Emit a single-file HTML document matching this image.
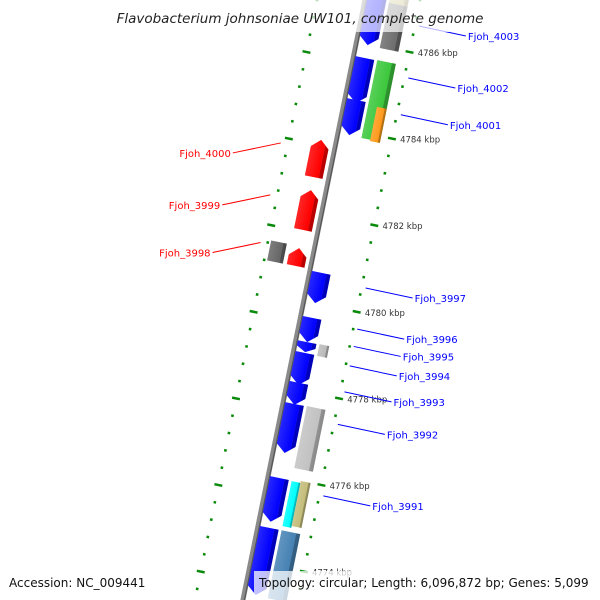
<!DOCTYPE html>
<html><head><meta charset="utf-8">
<style>
html,body{margin:0;background:#fff;width:600px;height:600px;overflow:hidden;}
svg{display:block;font-family:"DejaVu Sans","Liberation Sans",sans-serif;}
</style></head>
<body>
<svg id="chart" width="600" height="600" viewBox="0 0 600 600">
<defs>
<linearGradient id="shade" x1="0" x2="1" y1="0" y2="0">
<stop offset="0" stop-color="#fff" stop-opacity="0.15"/><stop offset="0.75" stop-color="#fff" stop-opacity="0"/><stop offset="0.8" stop-color="#000" stop-opacity="0.25"/><stop offset="1" stop-color="#000" stop-opacity="0.3"/>
</linearGradient>
<clipPath id="frame"><rect x="0" y="0" width="600" height="600"/></clipPath>
</defs>
<g clip-path="url(#frame)">
<g id="rot" transform="translate(365,0) rotate(11.5)"></g>
<g id="labels"></g>
</g>
<rect x="0" y="0" width="600" height="32" fill="#fff" fill-opacity="0.7"/>
<text x="300" y="23" text-anchor="middle" font-style="italic" font-size="13.5" fill="#222">Flavobacterium johnsoniae UW101, complete genome</text>
<rect x="254" y="571" width="340" height="29" fill="#fff" fill-opacity="0.75"/>
<text x="9" y="587" font-size="12" fill="#111">Accession: NC_009441</text>
<text x="259" y="587" font-size="12" fill="#111">Topology: circular; Length: 6,096,872 bp; Genes: 5,099</text>
</svg>
<script>
// data (kbp)
const geneStarts = [4787.3,4785.86,4784.89,4780.90,4779.86,4779.30,4779.05,4778.36,4777.87,4776.16,4775.01,
                    4787.35,4787.09,4785.77,4784.71,4779.23,4777.78,4776.07,4776.07,4774.91,
                    4783.97,4782.81,4781.47,4781.61];
const geneEnds   = [4786.16,4784.82,4784.08,4780.20,4779.30,4779.07,4778.31,4777.85,4776.74,4775.15,4773.46,
                    4787.05,4786.05,4783.97,4783.92,4778.96,4776.35,4775.03,4775.03,4773.34,
                    4783.11,4781.89,4781.06,4781.15];
const geneTracks = ["r1","r1","r1","r1","r1","r1","r1","r1","r1","r1","r1",
                    "r2","r2","r2","r2o","r2s","r2","r2i","r2o","r2",
                    "l1","l1","l1","l2"];
const geneColors = ["#0000ff","#0000ff","#0000ff","#0000ff","#0000ff","#0000ff","#0000ff","#0000ff","#0000ff","#0000ff","#0000ff",
                    "#c4bd7a","#6e6e6e","#3cc83c","#ff9a1a","#bbbbbb","#c2c2c2","#00ffff","#c4bd7a","#4682b4",
                    "#ff0000","#ff0000","#ff0000","#666666"];
const geneArrow  = ["dn","dn","dn","dn","dn","dn","dn","dn","dn","dn","dn",
                    "no","no","no","no","no","no","no","no","no",
                    "up","up","up","no"];
const tickKbp = [4786,4784,4782,4780,4778,4776,4774];
const tickLabels = ["4786 kbp","4784 kbp","4782 kbp","4780 kbp","4778 kbp","4776 kbp","4774 kbp"];
const geneNames = ["Fjoh_4003","Fjoh_4002","Fjoh_4001","Fjoh_4000","Fjoh_3999","Fjoh_3998","Fjoh_3997","Fjoh_3996","Fjoh_3995","Fjoh_3994","Fjoh_3993","Fjoh_3992","Fjoh_3991"];
const nameKbp =   [4786.6,4785.4,4784.55,4783.9,4782.7,4781.6,4780.55,4779.6,4779.2,4778.75,4778.15,4777.4,4775.75];
const nameSide =  ["r","r","r","l","l","l","r","r","r","r","r","r","r"];

const A = 11.5*Math.PI/180, C = Math.cos(A), S = Math.sin(A);
const NS = "http://www.w3.org/2000/svg";
// local along-axis coordinate for a kbp value at a radial offset, so screen y matches the scale
function yScale(k,o){ return (52 + (4786 - k)*43.3 - (o||0)*S)/C; }
function toScreen(o,L){ return [365 + o*C - L*S, o*S + L*C]; }
const trackOff = {r1:[2,21],r2:[24,43],r2i:[24,33],r2o:[33,43],r2s:[24,34],l1:[-24,-6],l2:[-44,-28]};
const rot = document.getElementById('rot');
const lab = document.getElementById('labels');
function mk(tag, attrs, parent){ const e=document.createElementNS(NS,tag); for(const k in attrs) e.setAttribute(k,attrs[k]); parent.appendChild(e); return e; }

const bb = mk('line',{x1:0,y1:-20,x2:0,y2:620,stroke:'#8a8a8a','stroke-width':5},rot);


mk('line',{x1:1.5,y1:-20,x2:1.5,y2:620,stroke:'#555','stroke-width':1.2},rot);

for(let k=4788; k>=4772.8; k-=0.4){
  const kk=Math.round(k*10)/10;
  const major = Math.abs(kk-Math.round(kk))<0.01 && Math.round(kk)%2===0;
  [54,-47].forEach(o=>{
    const L=yScale(kk,o);
    const d=mk('line',{x1:o-(major?4:1.3),y1:L,x2:o+(major?4:1.3),y2:L,stroke:'#0a8a0a','stroke-width':2.5},rot);
    
    
  });
}
tickKbp.forEach((k,i)=>{
  const [x,y]=toScreen(62,yScale(k,62));
  const t=mk('text',{x:x,y:y+4,'font-size':8.5,fill:'#333'},lab);
  t.textContent=tickLabels[i];
  
  
});

for(let i=0;i<geneStarts.length;i++){
  const [o1,o2]=trackOff[geneTracks[i]];
  const m=(o1+o2)/2;
  const L1=yScale(geneStarts[i],m), L2=yScale(geneEnds[i],m);
  const h=Math.min(8,(L2-L1)*0.5);
  let pts;
  if(geneArrow[i]==='dn') pts=[[o1,L1],[o2,L1],[o2,L2-h],[m,L2],[o1,L2-h]];
  else if(geneArrow[i]==='up') pts=[[m,L1],[o2,L1+h],[o2,L2],[o1,L2],[o1,L1+h]];
  else pts=[[o1,L1],[o2,L1],[o2,L2],[o1,L2]];
  const p=pts.map(q=>q.join(',')).join(' ');
  const g=mk('polygon',{points:p,fill:geneColors[i]},rot);
  
  
  mk('polygon',{points:p,fill:'url(#shade)'},rot);
}

geneNames.forEach((n,i)=>{
  const right=nameSide[i]==='r';
  const o=right?58:-54;
  const [x1,y1]=toScreen(o,yScale(nameKbp[i],o));
  const x2=right?x1+47:x1-48, y2=y1+10;
  const col=right?'#0000ff':'#ff0000';
  const ln=mk('line',{x1:x1,y1:y1,x2:x2,y2:y2,stroke:col,'stroke-width':1},lab);
  
  
  const t=mk('text',{x:right?x2+2:x2-2,y:y2+4,'font-size':10,fill:col,'text-anchor':right?'start':'end'},lab);
  t.textContent=n;
  
  
});
</script>
</body></html>
